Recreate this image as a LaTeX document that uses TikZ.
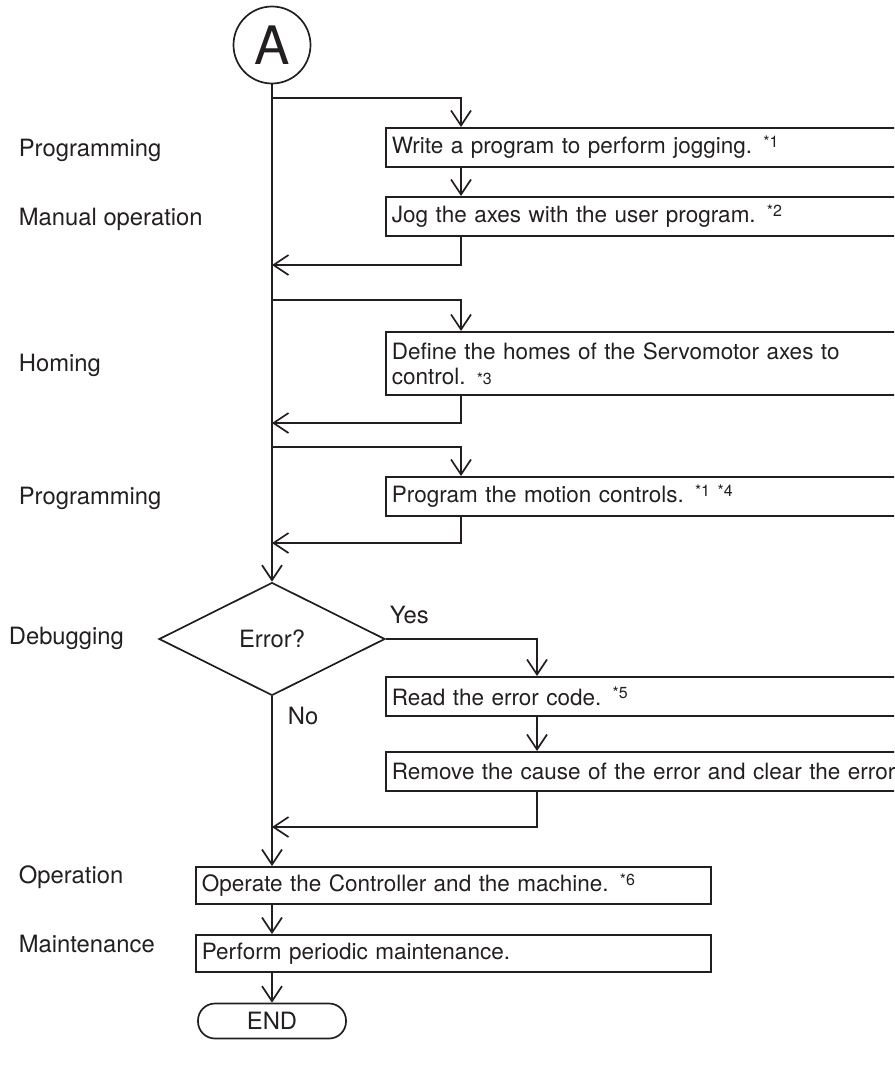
\documentclass[tikz,border=0pt]{standalone}
\usepackage{fontspec}
\setmainfont{TeX Gyre Heros}
\usetikzlibrary{arrows.meta,shapes.geometric,calc}
\definecolor{ink}{RGB}{35,31,32}
\newcommand\supx[1]{\raisebox{6.5pt}{\fontsize{16}{16}\selectfont #1}}
\begin{document}
\begin{tikzpicture}[x=1pt,y=-1pt, line width=1.7pt, color=ink,
  font=\fontsize{23.8}{25}\selectfont,
  arr/.style={-{Straight Barb[length=15pt,width=20pt]}},
  rbox/.style={draw, rectangle, anchor=north west, minimum height=39pt, text width=588pt, inner xsep=6pt, inner ysep=0pt, align=left, font=\fontsize{22.5}{25}\selectfont},
  lbox/.style={draw, rectangle, anchor=north west, minimum height=37pt, text width=503pt, inner xsep=6pt, inner ysep=0pt, align=left, font=\fontsize{22.5}{25}\selectfont},
  lab/.style={anchor=base west, inner sep=0pt}]
\useasboundingbox (0,0) rectangle (894,1073);
\clip (0,0) rectangle (894,1073);

\node[circle, draw, minimum size=77pt, inner sep=0pt, font=\fontsize{53}{53}\selectfont] (A) at (272,45) {A};
\node[rbox] (p1) at (385,127) {Write a program to perform jogging. \supx{*1}};
\node[rbox] (p2) at (385,196) {Jog the axes with the user program. \supx{*2}};
\node[rbox, minimum height=63pt] (p3) at (385,331) {Define the homes of the Servomotor axes to\\control. {\fontsize{16}{16}\selectfont *3}};
\node[rbox] (p4) at (385,476) {Program the motion controls. \supx{*1 *4}};
\node[diamond, draw, aspect=2, minimum width=226pt, minimum height=113pt, inner sep=0pt] (D) at (272,639) {Error?};
\node[rbox] (e1) at (385,676) {Read the error code. \supx{*5}};
\node[rbox] (e2) at (385,751) {Remove the cause of the error and clear the error.};
\node[lbox] (op) at (195,866) {Operate the Controller and the machine. \supx{*6}};
\node[lbox] (mt) at (195,934) {Perform periodic maintenance.};
\node[draw, rounded corners=17pt, minimum width=148pt, minimum height=35pt, inner sep=0pt] (end) at (272,1021) {END};

\coordinate (b1) at (272,98);
\coordinate (r1) at (272,265);
\coordinate (b2) at (272,300);
\coordinate (r2) at (272,423);
\coordinate (b3) at (272,447);
\coordinate (r3) at (272,543);
\coordinate (r4) at (272,827);

% main line
\draw[arr] (A) -- (D);
\draw[arr] (D.south) -- (D.south |- op.north);
\draw[arr] (op.south -| D.south) -- (mt.north -| D.south);
\draw[arr] (mt.south -| D.south) -- (end);

% branch 1
\draw[arr] (b1) -| ($(p1.north west)+(76,0)$);
\draw[arr] ($(p1.south west)+(76,0)$) -- ($(p2.north west)+(76,0)$);
\draw[arr] ($(p2.south west)+(76,0)$) |- (r1);
% branch 2
\draw[arr] (b2) -| ($(p3.north west)+(76,0)$);
\draw[arr] ($(p3.south west)+(76,0)$) |- (r2);
% branch 3
\draw[arr] (b3) -| ($(p4.north west)+(76,0)$);
\draw[arr] ($(p4.south west)+(76,0)$) |- (r3);
% yes branch
\draw[arr] (D.east) -| ($(e1.north west)+(152,0)$);
\draw[arr] ($(e1.south west)+(152,0)$) -- ($(e2.north west)+(152,0)$);
\draw[arr] ($(e2.south west)+(152,0)$) |- (r4);

\node[lab] (yes) at (389,623) {Yes};
\node[lab] (no) at (287,724) {No};

\node[lab] (l1) at (18,156) {Programming};
\node[lab] (l2) at (18,225) {Manual operation};
\node[lab] (l3) at (18,371) {Homing};
\node[lab] (l4) at (18,504) {Programming};
\node[lab] (l5) at (8,644) {Debugging};
\node[lab] (l6) at (18,883) {Operation};
\node[lab] (l7) at (18,952) {Maintenance};
\end{tikzpicture}
\end{document}
